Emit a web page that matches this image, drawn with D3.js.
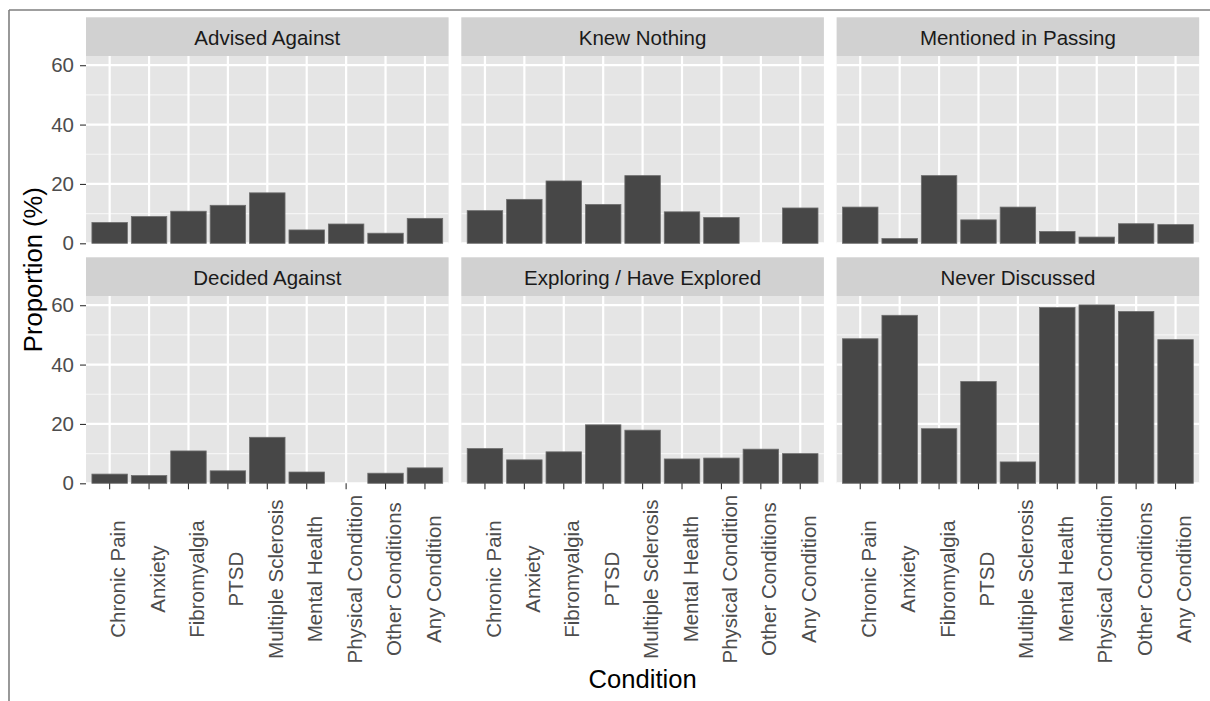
<!DOCTYPE html>
<html>
<head>
<meta charset="utf-8">
<script src="https://cdn.jsdelivr.net/npm/d3@7"></script>
<style>
  body { margin: 0; background: #fff; }
  svg { display: block; font-family: "Liberation Sans", Arial, Helvetica, sans-serif; }
</style>
</head>
<body>
<div id="chart"></div>
<script>
// Data
const conditions = ["Chronic Pain", "Anxiety", "Fibromyalgia", "PTSD", "Multiple Sclerosis",
    "Mental Health", "Physical Condition", "Other Conditions", "Any Condition"];
const facetNames = ["Advised Against", "Knew Nothing", "Mentioned in Passing",
    "Decided Against", "Exploring / Have Explored", "Never Discussed"];
const advisedAgainst = [7.0, 9.0, 10.8, 12.8, 17.0, 4.5, 6.5, 3.4, 8.4];
const knewNothing = [11.0, 14.8, 21.0, 13.1, 22.8, 10.6, 8.7, 0, 11.9];
const mentionedInPassing = [12.2, 1.6, 22.8, 7.9, 12.2, 4.0, 2.1, 6.6, 6.3];
const decidedAgainst = [3.1, 2.6, 10.9, 4.2, 15.5, 3.8, 0, 3.4, 5.2];
const exploring = [11.7, 7.9, 10.6, 19.7, 17.9, 8.2, 8.5, 11.5, 10.0];
const neverDiscussed = [48.7, 56.6, 18.4, 34.3, 7.2, 59.2, 60.1, 57.9, 48.4];
const yTicks = [0, 20, 40, 60];
const yMinor = [10, 30, 50];

const facetValues = [advisedAgainst, knewNothing, mentionedInPassing,
    decidedAgainst, exploring, neverDiscussed];

// Layout
const W = 1210, H = 701;
const panelLeft = 86, panelW = 362.6, gapX = 12.7;
const top0 = 17.3, stripH = 38.7, panelH = 187.3, gapY = 14;
const nCols = 3;
const smallFont = 20.5, titleFont = 25.6;

const svg = d3.select("#chart").append("svg")
    .attr("width", W)
    .attr("height", H);

// Outer frame (only top and left edges are in view)
svg.append("line").attr("x1", 9).attr("x2", W).attr("y1", 10).attr("y2", 10)
    .attr("stroke", "#7f7f7f").attr("stroke-width", 1.6);
svg.append("line").attr("x1", 9).attr("x2", 9).attr("y1", 10).attr("y2", H)
    .attr("stroke", "#7f7f7f").attr("stroke-width", 1.6);

const yMax = d3.max(facetValues.flat()) * 1.05;
const nRows = Math.ceil(facetNames.length / nCols);

facetNames.forEach((name, i) => {
    const r = Math.floor(i / nCols), c = i % nCols;
    const x0 = panelLeft + c * (panelW + gapX);
    const stripTop = top0 + r * (stripH + panelH + gapY);
    const pTop = stripTop + stripH;
    const pBottom = pTop + panelH;

    const x = d3.scaleBand()
        .domain(conditions)
        .range([x0, x0 + panelW])
        .paddingInner(0.1)
        .paddingOuter(0.15);
    const y = d3.scaleLinear()
        .domain([0, yMax])
        .range([pBottom, pTop]);

    const g = svg.append("g");

    // Strip
    g.append("rect")
        .attr("x", x0).attr("y", stripTop)
        .attr("width", panelW).attr("height", stripH)
        .attr("fill", "#d1d1d1");
    g.append("text")
        .attr("x", x0 + panelW / 2)
        .attr("y", stripTop + stripH / 2)
        .attr("dy", "0.4em")
        .attr("text-anchor", "middle")
        .attr("font-size", smallFont)
        .attr("fill", "#1a1a1a")
        .text(name);

    // Panel background + grid
    g.append("rect")
        .attr("x", x0).attr("y", pTop)
        .attr("width", panelW).attr("height", panelH)
        .attr("fill", "#e5e5e5");
    g.selectAll(".minor").data(yMinor).join("line")
        .attr("x1", x0).attr("x2", x0 + panelW)
        .attr("y1", d => y(d)).attr("y2", d => y(d))
        .attr("stroke", "#f5f5f5").attr("stroke-width", 1.1);
    g.selectAll(".major").data(yTicks).join("line")
        .attr("x1", x0).attr("x2", x0 + panelW)
        .attr("y1", d => y(d)).attr("y2", d => y(d))
        .attr("stroke", "#fff").attr("stroke-width", 2.2);
    g.selectAll(".vgrid").data(conditions).join("line")
        .attr("x1", d => x(d) + x.bandwidth() / 2).attr("x2", d => x(d) + x.bandwidth() / 2)
        .attr("y1", pTop).attr("y2", pBottom)
        .attr("stroke", "#fff").attr("stroke-width", 2.2);

    // Bars
    const vals = facetValues[i];
    g.selectAll(".bar").data(conditions.map((d, j) => ({ cond: d, value: vals[j] })).filter(d => d.value > 0))
        .join("rect")
        .attr("x", d => x(d.cond))
        .attr("y", d => y(d.value))
        .attr("width", x.bandwidth())
        .attr("height", d => pBottom - y(d.value))
        .attr("fill", "#474747")
        .attr("stroke", "#6e6e6e")
        .attr("stroke-width", 0.8);

    // Y axis on first column
    if (c === 0) {
        const ay = g.append("g")
            .attr("transform", `translate(${x0}, 0)`)
            .call(d3.axisLeft(y).tickValues(yTicks).tickSize(6).tickPadding(6));
        ay.select(".domain").remove();
        ay.selectAll("line").attr("stroke", "#333").attr("stroke-width", 1.1);
        ay.selectAll("text").attr("font-size", smallFont).attr("fill", "#4d4d4d")
            .attr("font-family", null);
    }

    // X axis on bottom row
    if (r === nRows - 1) {
        const ax = g.append("g")
            .attr("transform", `translate(0, ${pBottom})`)
            .call(d3.axisBottom(x).tickSize(6));
        ax.select(".domain").remove();
        ax.selectAll("line").attr("stroke", "#333").attr("stroke-width", 1.1);
        const labels = ax.selectAll("text")
            .attr("font-size", smallFont).attr("fill", "#4d4d4d")
            .attr("font-family", null);
        let maxLen = 0;
        labels.each(function() { maxLen = Math.max(maxLen, this.getComputedTextLength()); });
        labels
            .attr("text-anchor", "middle")
            .attr("transform", "rotate(-90)")
            .attr("x", -(6 + 5.5 + maxLen / 2))
            .attr("y", 0)
            .attr("dy", "0.76em");
    }
});

// Axis titles (y title centred on the panel areas, strips excluded)
const firstPanelTop = top0 + stripH;
const lastPanelBottom = top0 + nRows * (stripH + panelH) + (nRows - 1) * gapY;
svg.append("text")
    .attr("transform", `translate(41.5, ${(firstPanelTop + lastPanelBottom) / 2}) rotate(-90)`)
    .attr("text-anchor", "middle")
    .attr("font-size", titleFont)
    .attr("fill", "#000")
    .text("Proportion (%)");

svg.append("text")
    .attr("x", panelLeft + (nCols * panelW + (nCols - 1) * gapX) / 2)
    .attr("y", 688)
    .attr("text-anchor", "middle")
    .attr("font-size", titleFont)
    .attr("fill", "#000")
    .text("Condition");
</script>
</body>
</html>
